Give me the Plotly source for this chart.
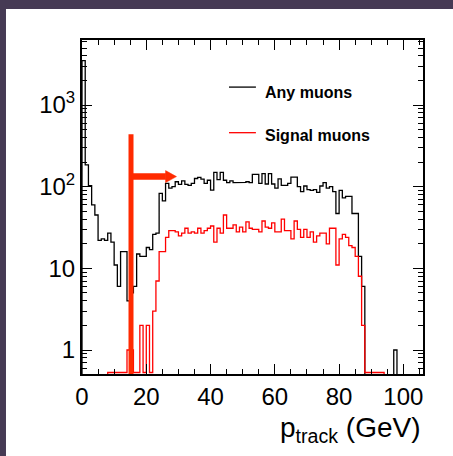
import plotly.graph_objects as go

# Track momentum spectra, 1 GeV bins from 0 to 106 GeV.
# None = bin not drawn, 0 = empty bin drawn along the bottom of the frame.
BIN_EDGES = list(range(0, 107))

any_muons = (
    [3500, 185, 103, 60, 45, 22, 23, 22, 27, 21,
     11, 6, 16, 16, 4, 5, 6, 15, 14, 14,
     18, 17, 26, 27, 83, 67, 110, 96, 100, 115,
     107, 118, 107, 104, 110, 126, 130, 124, 110, 120,
     91, 150, 122, 150, 120, 112, 118, 112, 113, 113,
     113, 115, 112, 142, 142, 110, 145, 108, 145, 108,
     96, 125, 104, 104, 110, 131, 131, 100, 87, 102,
     92, 90, 92, 85, 102, 112, 96, 100, 87, 47,
     90, 73, 76, 76, 47, 47, 14, 6]
    + [None] * 9 + [1] + [None] * 8
)

signal_muons = (
    [None] * 8
    + [0, 0, 0, 0, 0, 0, 1, 1, 0, 0,
       2, 0, 2, 0, 3, 7, 16, 16, 24, 29,
       29, 28, 25, 27, 31, 27, 28, 27, 31, 27,
       29, 31, 33, 21, 31, 27, 45, 31, 31, 34,
       28, 32, 28, 37, 31, 30, 30, 28, 38, 32,
       31, 36, 28, 28, 40, 29, 29, 23, 38, 30,
       24, 30, 24, 28, 21, 25, 27, 27, 20, 31,
       31, 11, 23, 26, 24, 19, 18, 14, 8, 2,
       0, 0, 0, 0, 0, 0]
    + [None] * 12
)

SERIES_NAMES = ["Any muons", "Signal muons"]
SERIES_COLORS = ["#000000", "#ff0000"]

# Momentum cut marker
CUT_GEV = 15.25
CUT_TOP = 440
ARROW_LEVEL = 133
ARROW_SHAFT_END = 26.0
ARROW_TIP = 29.4
CUT_COLOR = "#ff2a00"

X_RANGE = [0, 106.1]
Y_RANGE_LOG = [-0.294, 3.797]
ZERO_LEVEL = 0.53          # where empty bins are drawn (just above the frame)
BELOW_FRAME = 0.2          # used for vertical edges dropping off the frame

X_TICKS = [0, 20, 40, 60, 80, 100]
Y_TICKS = [1, 10, 100, 1000]
Y_TICK_TEXT = ["1", "10", "10<sup>2</sup>", "10<sup>3</sup>"]


def outline(edges, counts):
    """Histogram outline (ROOT 'hist' style) as x/y polyline with gaps."""
    xs, ys = [], []
    prev = None
    for i, c in enumerate(counts):
        lo, hi = edges[i], edges[i + 1]
        if c is None:
            if prev is not None:
                xs += [lo, None]
                ys += [BELOW_FRAME, None]
            prev = None
            continue
        v = c if c > 0 else ZERO_LEVEL
        if prev is None:
            xs.append(lo)
            ys.append(BELOW_FRAME)
        xs += [lo, hi]
        ys += [v, v]
        prev = v
    if prev is not None:
        xs.append(edges[len(counts)])
        ys.append(BELOW_FRAME)
    return xs, ys


fig = go.Figure()

for name, counts, color in zip(SERIES_NAMES, [any_muons, signal_muons], SERIES_COLORS):
    xs, ys = outline(BIN_EDGES, counts)
    fig.add_trace(go.Scatter(
        x=xs, y=ys, mode="lines", name=name,
        line=dict(color=color, width=1.3),
        connectgaps=False, showlegend=False, hoverinfo="skip",
    ))

# Arrow head of the cut marker
half = 10 ** 0.0735
fig.add_trace(go.Scatter(
    x=[ARROW_SHAFT_END, ARROW_TIP, ARROW_SHAFT_END, ARROW_SHAFT_END],
    y=[ARROW_LEVEL * half, ARROW_LEVEL, ARROW_LEVEL / half, ARROW_LEVEL * half],
    mode="lines", fill="toself", fillcolor=CUT_COLOR,
    line=dict(color=CUT_COLOR, width=0.5), showlegend=False, hoverinfo="skip",
))

shapes = [
    # cut line and arrow shaft
    dict(type="line", xref="x", yref="y", x0=CUT_GEV, x1=CUT_GEV,
         y0=0.3, y1=CUT_TOP, line=dict(color=CUT_COLOR, width=5), layer="above"),
    dict(type="line", xref="x", yref="y", x0=CUT_GEV, x1=ARROW_SHAFT_END + 0.1,
         y0=ARROW_LEVEL, y1=ARROW_LEVEL, line=dict(color=CUT_COLOR, width=6.5),
         layer="above"),
    # legend line samples
    dict(type="line", xref="paper", yref="paper", x0=0.431, x1=0.510,
         y0=0.859, y1=0.859, line=dict(color=SERIES_COLORS[0], width=1.3)),
    dict(type="line", xref="paper", yref="paper", x0=0.431, x1=0.510,
         y0=0.7225, y1=0.7225, line=dict(color=SERIES_COLORS[1], width=1.3)),
    # dark page border at the top and left
    dict(type="rect", xref="paper", yref="paper", x0=-0.3, x1=1.2,
         y0=1.0928, y1=1.2, fillcolor="#463a54", line=dict(width=0)),
    dict(type="rect", xref="paper", yref="paper", x0=-0.3, x1=-0.2229,
         y0=-0.3, y1=1.2, fillcolor="#463a54", line=dict(width=0)),
]

annotations = [
    dict(text="<b>" + SERIES_NAMES[0] + "</b>", xref="paper", yref="paper",
         x=0.530, y=0.844, xanchor="left", yanchor="middle", showarrow=False,
         font=dict(family="Liberation Sans", size=16, color="black")),
    dict(text="<b>" + SERIES_NAMES[1] + "</b>", xref="paper", yref="paper",
         x=0.530, y=0.7126, xanchor="left", yanchor="middle", showarrow=False,
         font=dict(family="Liberation Sans", size=16, color="black")),
    dict(text="p<sub>track</sub> (GeV)", xref="paper", yref="paper",
         x=1.0, y=-0.165, xanchor="right", yanchor="middle", showarrow=False,
         font=dict(family="Liberation Sans", size=28, color="black")),
]

axis_common = dict(
    showline=True, linecolor="black", linewidth=2, mirror="ticks",
    ticks="inside", tickcolor="black", tickwidth=1.3, ticklen=10,
    showgrid=False, zeroline=False,
    tickfont=dict(family="Liberation Sans", size=24, color="black"),
)

fig.update_layout(
    width=453, height=456,
    margin=dict(l=82, r=30, t=40, b=82),
    paper_bgcolor="white", plot_bgcolor="white",
    shapes=shapes, annotations=annotations,
    xaxis=dict(range=X_RANGE, tickvals=X_TICKS,
               minor=dict(ticks="inside", dtick=5, ticklen=5, tickwidth=1.3,
                          tickcolor="black", showgrid=False),
               **axis_common),
    yaxis=dict(type="log", range=Y_RANGE_LOG, tickvals=Y_TICKS, ticktext=Y_TICK_TEXT,
               minor=dict(ticks="inside", dtick="D1", ticklen=5, tickwidth=1.3,
                          tickcolor="black", showgrid=False),
               **axis_common),
)

fig.write_html("out.html")
